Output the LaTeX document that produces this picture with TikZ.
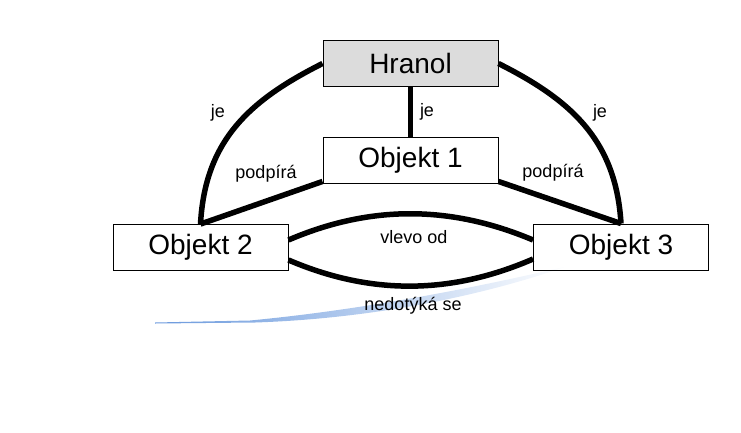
\documentclass[tikz,border=0pt]{standalone}
\usepackage{fontspec}
\setmainfont{Liberation Sans}
\begin{document}
\begin{tikzpicture}[x=1pt,y=-1pt,
  box/.style={draw=black,line width=0.9pt,minimum width=175pt,minimum height=46pt,inner sep=0pt,
    font=\fontsize{28}{33}\selectfont},
  conn/.style={line width=5.5pt},
  lbl/.style={font=\fontsize{18}{21}\selectfont,inner sep=0pt}]
\useasboundingbox (0,0) rectangle (741,432);
\definecolor{swblue}{RGB}{80,135,215}
\definecolor{hgray}{RGB}{220,220,220}
% decorative swoosh
\shade[left color=swblue!85,right color=white]
  (155,323.5) -- (255,322.5) .. controls (360,319) and (470,300) .. (568,266)
  .. controls (470,289) and (360,310) .. (250,320.5) -- (155,322.5) -- cycle;
\node[box,fill=hgray] (hr) at (410.5,63.5) {Hranol};
\node[box] (o1) at (410.5,160) {Objekt 1};
\node[box] (o2) at (200.5,247.5) {Objekt 2};
\node[box] (o3) at (621,247) {Objekt 3};
\draw[conn] (hr.south) -- (o1.north);
\draw[conn] (hr.west) .. controls (250,100) and (205,140) .. (o2.north);
\draw[conn] (hr.east) .. controls (571,100) and (616,140) .. (o3.north);
\draw[conn] ([yshift=2pt]o1.south west) -- (o2.north);
\draw[conn] ([yshift=2pt]o1.south east) -- (o3.north);
\draw[conn] ([yshift=7.5pt]o2.east) .. controls (370,205) and (450,205) .. ([yshift=7pt]o3.west);
\draw[conn] ([yshift=-12.5pt]o2.east) .. controls (370,295) and (450,295) .. ([yshift=-12pt]o3.west);
\node[lbl] (l1) at (218,113) {je};
\node[lbl] (l2) at (427,112) {je};
\node[lbl] (l3) at (600,113) {je};
\node[lbl] (l4) at (266,174) {podpírá};
\node[lbl] (l5) at (553,173) {podpírá};
\node[lbl] (l6) at (414,237) {vlevo od};
\node[lbl] (l7) at (413,306) {nedotýká se};
\end{tikzpicture}
\end{document}
